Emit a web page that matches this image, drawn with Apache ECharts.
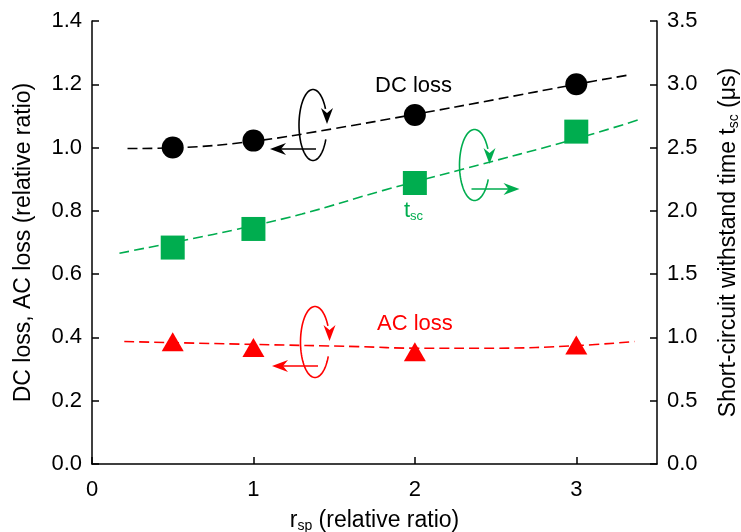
<!DOCTYPE html>
<html>
<head>
<meta charset="utf-8">
<script src="https://cdn.jsdelivr.net/npm/echarts@6/dist/echarts.min.js"></script>
<style>
  html, body { margin: 0; padding: 0; background: #fff; }
  #chart { width: 741px; height: 532px; }
</style>
</head>
<body>
<div id="chart"></div>
<script>
var FONT = "'Liberation Sans', Arial, sans-serif";
var BLACK = '#000000', GREEN = '#00ad4f', RED = '#ff0000';

// measured points
var rspX = [0.5, 1, 2, 3];
var dcLoss = [1.0, 1.022, 1.103, 1.2];
var acLoss = [0.386, 0.368, 0.355, 0.376];
var tscVals = [1.71, 1.857, 2.22, 2.626]; // right axis (us)

// dashed fit curves
var dcFitX = [0.22, 0.5, 1.0, 1.5, 2.0, 2.5, 3.0, 3.32];
var dcFitY = [0.997, 0.999, 1.02, 1.06, 1.105, 1.152, 1.2, 1.229];
var tscFitX = [0.17, 0.6, 0.9, 1.3, 1.8, 2.3, 3.0, 3.4];
var tscFitY = [1.665, 1.775, 1.855, 1.975, 2.16, 2.33, 2.57, 2.725];
var acFitX = [0.2, 1.0, 1.65, 2.0, 2.5, 3.0, 3.36];
var acFitY = [0.387, 0.378, 0.371, 0.366, 0.366, 0.374, 0.387];

// axis ticks
var xTicks = [0, 1, 2, 3];
var leftMax = 1.4, leftStep = 0.2;
var rightMax = 3.5, rightStep = 0.5;

function pairs(xs, ys) {
	var out = [];
	for(var i = 0; i < xs.length; i++) {
		out.push([xs[i], ys[i]]);
	}
	return out;
}

//旋转箭头(椭圆弧 + 箭头)
function arrowHead(tx, ty, ang, color) {
	var len = 16, hw = 6, notch = 5;
	var dx = Math.cos(ang), dy = Math.sin(ang);
	var nx = -dy, ny = dx;
	return {
		type: 'polygon',
		shape: { points: [
			[tx, ty],
			[tx - len * dx + hw * nx, ty - len * dy + hw * ny],
			[tx - (len - notch) * dx, ty - (len - notch) * dy],
			[tx - len * dx - hw * nx, ty - len * dy - hw * ny]
		] },
		style: { fill: color },
		z: 100
	};
}

function swirl(cx, cy, rx, ry, color, toRight) {
	var pts = [];
	for(var a = 24; a <= 335; a += 3) {
		var t = a * Math.PI / 180;
		pts.push([cx + rx * Math.cos(t), cy + ry * Math.sin(t)]);
	}
	var hy = cy + 24;
	var items = [
		{ type: 'polyline', shape: { points: pts }, style: { stroke: color, lineWidth: 1.6, fill: null }, z: 100 },
		arrowHead(cx + rx, cy - 1, Math.PI / 2, color)
	];
	if(toRight) {
		items.push({ type: 'line', shape: { x1: cx - 3, y1: hy, x2: cx + 38, y2: hy }, style: { stroke: color, lineWidth: 1.6 }, z: 100 });
		items.push(arrowHead(cx + 45, hy, 0, color));
	} else {
		items.push({ type: 'line', shape: { x1: cx + 3, y1: hy, x2: cx - 36, y2: hy }, style: { stroke: color, lineWidth: 1.6 }, z: 100 });
		items.push(arrowHead(cx - 43, hy, Math.PI, color));
	}
	return items;
}

var graphics = [].concat(
	swirl(313, 125, 14, 35.5, BLACK, false),
	swirl(315, 342, 14.5, 35.5, RED, false),
	swirl(474.5, 165, 15, 35.5, GREEN, true),
	[
		{ type: 'text', left: 375, top: 75, z: 100,
			style: { text: 'DC loss', fill: BLACK, font: '22px ' + FONT } },
		{ type: 'text', left: 377, top: 313, z: 100,
			style: { text: 'AC loss', fill: RED, font: '22px ' + FONT } },
		{ type: 'text', left: 404, top: 200, z: 100,
			style: {
				text: '{n|t}{s|sc}',
				rich: {
					n: { fill: GREEN, fontSize: 22, fontFamily: FONT },
					s: { fill: GREEN, fontSize: 13, fontFamily: FONT, padding: [10, 0, 0, 0] }
				}
			} }
	]
);

var nameRich = {
	n: { fontSize: 23, fontFamily: FONT, color: BLACK },
	s: { fontSize: 14, fontFamily: FONT, color: BLACK, padding: [10, 0, 0, 0] }
};

var chart = echarts.init(document.getElementById('chart'), null, { renderer: 'canvas' });
var option = {
	backgroundColor: '#fff',
	animation: false,
	grid: { left: 92, right: 84, top: 21, bottom: 68, outerBoundsMode: 'none' },
	xAxis: {
		type: 'value',
		min: 0,
		max: 3.5,
		interval: 1,
		name: '{n|r}{s|sp}{n| (relative ratio)}',
		nameLocation: 'middle',
		nameGap: 45,
		nameTextStyle: { rich: nameRich },
		axisLine: { lineStyle: { color: BLACK, width: 1.5 } },
		axisTick: { inside: true, length: 7, lineStyle: { color: BLACK, width: 1.5 } },
		axisLabel: {
			color: BLACK, fontSize: 22, fontFamily: FONT, margin: 15, showMaxLabel: false,
			formatter: function(v) { return xTicks.indexOf(v) >= 0 ? String(v) : ''; }
		},
		splitLine: { show: false }
	},
	yAxis: [{
		type: 'value',
		min: 0,
		max: leftMax,
		interval: leftStep,
		name: 'DC loss, AC loss (relative ratio)',
		nameLocation: 'middle',
		nameRotate: 90,
		nameGap: 57,
		nameTextStyle: { color: BLACK, fontSize: 23, fontFamily: FONT },
		axisLine: { show: true, lineStyle: { color: BLACK, width: 1.5 } },
		axisTick: { show: true, inside: true, length: 7, lineStyle: { color: BLACK, width: 1.5 } },
		axisLabel: {
			color: BLACK, fontSize: 22, fontFamily: FONT, margin: 10,
			formatter: function(v) { return v.toFixed(1); }
		},
		splitLine: { show: false }
	}, {
		type: 'value',
		position: 'right',
		min: 0,
		max: rightMax,
		interval: rightStep,
		name: '{n|Short-circuit withstand time t}{s|sc}{n| (μs)}',
		nameLocation: 'middle',
		nameRotate: 90,
		nameGap: 60,
		nameTextStyle: { rich: nameRich },
		axisLine: { show: true, lineStyle: { color: BLACK, width: 1.5 } },
		axisTick: { show: true, inside: true, length: 7, lineStyle: { color: BLACK, width: 1.5 } },
		axisLabel: {
			color: BLACK, fontSize: 22, fontFamily: FONT, margin: 10,
			formatter: function(v) { return v.toFixed(1); }
		},
		splitLine: { show: false }
	}],
	series: [{
		name: 'DC fit',
		type: 'line',
		data: pairs(dcFitX, dcFitY),
		smooth: 0.4,
		showSymbol: false,
		lineStyle: { color: BLACK, width: 1.6, type: [10, 5] },
		z: 2
	}, {
		name: 'tsc fit',
		type: 'line',
		yAxisIndex: 1,
		data: pairs(tscFitX, tscFitY),
		smooth: 0.4,
		showSymbol: false,
		lineStyle: { color: GREEN, width: 1.6, type: [10, 5] },
		z: 2
	}, {
		name: 'AC fit',
		type: 'line',
		data: pairs(acFitX, acFitY),
		smooth: 0.4,
		showSymbol: false,
		lineStyle: { color: RED, width: 1.6, type: [10, 5] },
		z: 2
	}, {
		name: 'DC loss',
		type: 'scatter',
		data: pairs(rspX, dcLoss),
		symbol: 'circle',
		symbolSize: 22,
		itemStyle: { color: BLACK, opacity: 1 },
		z: 3
	}, {
		name: 'tsc',
		type: 'scatter',
		yAxisIndex: 1,
		data: pairs(rspX, tscVals),
		symbol: 'rect',
		symbolSize: 24,
		itemStyle: { color: GREEN, opacity: 1 },
		z: 3
	}, {
		name: 'AC loss',
		type: 'scatter',
		data: pairs(rspX, acLoss),
		symbol: 'triangle',
		symbolSize: [22, 19],
		itemStyle: { color: RED, opacity: 1 },
		z: 3
	}],
	graphic: graphics
};
chart.setOption(option);
</script>
</body>
</html>
